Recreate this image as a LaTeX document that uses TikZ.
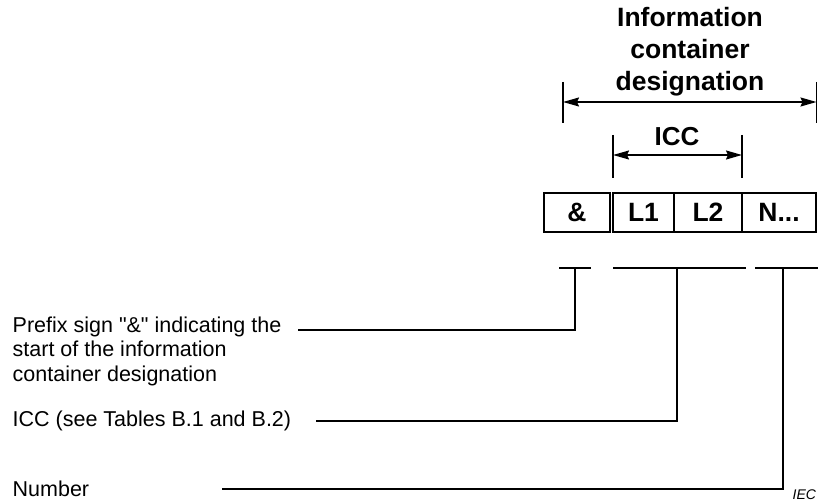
\documentclass[tikz,border=0pt]{standalone}
\usepackage{fontspec}
\setmainfont{Liberation Sans}
\usetikzlibrary{arrows.meta,positioning}

\begin{document}
\begin{tikzpicture}[x=1pt,y=-1pt,line width=1.4pt,
  field/.style={draw,minimum height=39pt,inner sep=0pt,font=\fontsize{26.5}{30}\selectfont\bfseries},
  dimline/.style={{Stealth[length=16pt,width=9pt,inset=2pt]}-{Stealth[length=16pt,width=9pt,inset=2pt]}},
  note/.style={anchor=west,inner sep=0pt,align=left,font=\fontsize{21.5}{24.5}\selectfont},
  title/.style={inner sep=0pt,align=center,font=\fontsize{26.5}{32}\selectfont\bfseries}]
  \useasboundingbox (0,0) rectangle (818,502);
  \node [field,minimum width=66pt] (amp) at (577,212.5) {\&};
  \node [field,minimum width=61pt] (lone) at (643.5,212.5) {L1};
  \node [field,minimum width=68pt] (ltwo) at (708,212.5) {L2};
  \node [field,minimum width=74pt] (num) at (779,212.5) {N...};
  \node [title] (icd) at (690,52) {Information\\container\\designation};
  \node [title,font=\fontsize{26}{30}\selectfont\bfseries] (icc) at (677,137) {ICC};
  \coordinate (icdL) at (563,102);
  \coordinate (icdR) at (816.5,102);
  \coordinate (iccL) at (613,155);
  \coordinate (iccR) at (742,155);
  \draw (563,82) -- (563,123);
  \draw (816.5,82) -- (816.5,123);
  \draw (613,135) -- (613,178);
  \draw (742,135) -- (742,178);
  \draw [dimline] (icdL) -- (icdR);
  \draw [dimline] (iccL) -- (iccR);
  \node [note] (pfx) at (12,351) {Prefix sign \textquotedbl\&\textquotedbl{} indicating the\\start of the information\\container designation};
  \node [note] (iccnote) at (12,421) {ICC (see Tables B.1 and B.2)};
  \node [note] (numnote) at (12,489) {Number};
  \node [anchor=base west,inner sep=0pt,font=\fontsize{14}{16}\selectfont\itshape] (iec) at (792,499) {IEC};
  \coordinate (pfxend) at (298,330);
  \coordinate (iccend) at (316,421);
  \coordinate (numend) at (222,489);
  \draw (559,268) -- (591,268);
  \draw (613,268) -- (746,268);
  \draw (755,268) -- (818,268);
  \draw (575,268) |- (pfxend);
  \draw (677,268) |- (iccend);
  \draw (783,268) |- (numend);
\end{tikzpicture}
\end{document}
